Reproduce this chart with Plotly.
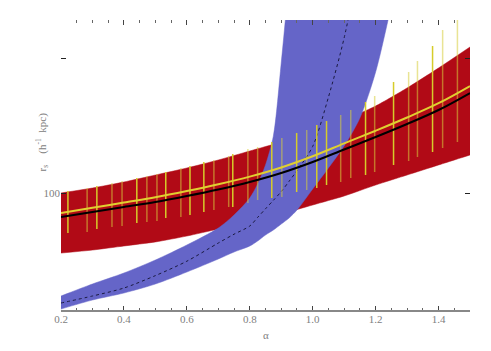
import plotly.graph_objects as go

# ---- data ----
alpha = [0.2, 0.3, 0.4, 0.5, 0.6, 0.7, 0.8, 0.9, 1.0, 1.1, 1.2, 1.3, 1.4, 1.5]
red_low = [35.9, 37.8, 40.5, 43.4, 48.0, 54.1, 61.0, 69.9, 81.5, 95.0, 114.6, 135.9, 161.3, 191.2]
red_high = [100.0, 108.9, 120.6, 135.9, 153.2, 175.6, 204.7, 238.7, 287.9, 347.2, 441.0, 599.6, 843.3, 1206.5]
black_fit = [66.4, 72.3, 78.8, 85.8, 95.0, 106.2, 120.6, 140.6, 169.7, 210.0, 259.9, 324.5, 411.9, 550.4]
yellow_fit = [71.1, 77.7, 85.0, 92.9, 103.3, 116.0, 132.3, 154.7, 187.3, 233.0, 289.4, 362.5, 462.6, 620.3]

alpha_blue = [0.2, 0.3, 0.4, 0.5, 0.6, 0.7, 0.75, 0.8, 0.825, 0.85, 0.875, 0.9, 0.925, 0.95,
              1.0, 1.05, 1.1, 1.15, 1.2, 1.25]
blue_high = [17.26, 21.18, 25.55, 31.9, 41.2, 55.0, 68.7, 91.8, 116.6, 161.3, 264.4, 918.3, 3784, 14800]
blue_low = [13.82, 16.12, 18.17, 21.18, 25.99, 32.45, 36.56, 40.5, 44.1, 48.85, 53.2, 58.9, 65.3, 74.8,
            107.1, 153.2, 222.9, 359.3, 787.6, 2470]
blue_mid = [15.32, 17.26, 19.78, 24.44, 31.25, 42.62, 49.53, 56.95, 65.97, 76.38, 88.27, 102.4, 122.1, 146.3,
            221.4, 512.4, 1409, 5320]

bar_a_alpha = [0.222, 0.314, 0.441, 0.533, 0.610, 0.654, 0.746, 0.870, 0.949, 1.013, 1.044, 1.168, 1.257, 1.381]
bar_a_low = [50.5, 54.1, 60.0, 65.3, 68.7, 72.3, 78.8, 91.8, 101.7, 108.9, 114.6, 135.9, 161.2, 201.2]
bar_a_high = [103.5, 112.7, 129.2, 143.1, 158.5, 169.7, 194.5, 238.7, 278.3, 318.9, 341.5, 472.2, 664.1, 1227]

bar_b_alpha = [0.283, 0.362, 0.394, 0.473, 0.505, 0.581, 0.686, 0.733, 0.794, 0.825, 0.902, 0.981,
               1.089, 1.121, 1.197, 1.305, 1.333, 1.413, 1.460]
bar_b_low = [51.4, 56.0, 57.0, 61.0, 62.0, 66.4, 74.8, 78.8, 84.3, 88.7, 93.4, 105.3,
             120.6, 129.2, 143.1, 172.6, 184.8, 215.4, 238.7]
bar_b_high = [108.9, 118.6, 122.7, 133.6, 138.3, 153.2, 175.6, 188.0, 211.8, 219.2, 255.5, 292.9,
              378.3, 411.9, 523.1, 787.6, 950.1, 1612, 2268]

x_tickvals = [0.2, 0.4, 0.6, 0.8, 1.0, 1.2, 1.4]
x_ticktext = ["0.2", "0.4", "0.6", "0.8", "1.0", "1.2", "1.4"]
y_tickvals = [100]
y_ticktext = ["100"]
y_unlabelled_ticks = [1000]

RED = "#b10a16"
BLUE = "#6565c8"


def segments(xs, lo, hi):
    sx, sy = [], []
    for a, l, h in zip(xs, lo, hi):
        sx += [a, a, None]
        sy += [l, h, None]
    return sx, sy


fig = go.Figure()

# red band (lower edge, then upper edge filled to it)
fig.add_trace(go.Scatter(x=alpha, y=red_low, mode="lines",
                         line=dict(width=0.5, color=RED, shape="spline", smoothing=0.6),
                         hoverinfo="skip", showlegend=False))
fig.add_trace(go.Scatter(x=alpha, y=red_high, mode="lines", fill="tonexty", fillcolor=RED,
                         line=dict(width=0.5, color=RED, shape="spline", smoothing=0.6),
                         hoverinfo="skip", showlegend=False))

# blue band
fig.add_trace(go.Scatter(x=alpha_blue, y=blue_low, mode="lines",
                         line=dict(width=0.5, color=BLUE, shape="spline", smoothing=0.8),
                         hoverinfo="skip", showlegend=False))
fig.add_trace(go.Scatter(x=alpha_blue[:len(blue_high)], y=blue_high, mode="lines",
                         fill="tonexty", fillcolor=BLUE,
                         line=dict(width=0.5, color=BLUE, shape="spline", smoothing=0.8),
                         hoverinfo="skip", showlegend=False))

# blue dotted centre line
fig.add_trace(go.Scatter(
    x=alpha_blue[:len(blue_mid)], y=blue_mid, mode="lines",
    line=dict(color="#1a1a40", width=1, dash="dot", shape="spline", smoothing=0.8), showlegend=False))

# error bars
sx, sy = segments(bar_b_alpha, bar_b_low, bar_b_high)
fig.add_trace(go.Scatter(x=sx, y=sy, mode="lines",
                         line=dict(color="rgba(215,205,60,0.55)", width=1.5), showlegend=False))
sx, sy = segments(bar_a_alpha, bar_a_low, bar_a_high)
fig.add_trace(go.Scatter(x=sx, y=sy, mode="lines",
                         line=dict(color="#d6cc2a", width=1.5), showlegend=False))

# fit lines
fig.add_trace(go.Scatter(x=alpha, y=black_fit, mode="lines",
                         line=dict(color="#000000", width=2, shape="spline"), showlegend=False))
fig.add_trace(go.Scatter(x=alpha, y=yellow_fit, mode="lines",
                         line=dict(color="#e0cf30", width=2, shape="spline"), showlegend=False))

font_ticks = dict(family="Liberation Serif", size=11, color="#808080")

fig.update_xaxes(
    range=[0.2, 1.5], tickvals=x_tickvals, ticktext=x_ticktext,
    ticks="inside", ticklen=5, tickwidth=1, tickcolor="#444",
    mirror="ticks", showline=False,
    showgrid=False, zeroline=False, tickfont=font_ticks,
    minor=dict(dtick=0.05, ticks="inside", ticklen=3, tickcolor="#666", showgrid=False),
)
fig.update_yaxes(
    type="log", range=[1.126, 3.2815], tickvals=y_tickvals, ticktext=y_ticktext,
    ticks="inside", ticklen=5, tickwidth=1, tickcolor="#222",
    mirror="ticks", showline=False, showgrid=False, zeroline=False, tickfont=font_ticks,
    minor=dict(tickvals=y_unlabelled_ticks, ticks="inside", ticklen=5, tickcolor="#222", showgrid=False),
)

# bottom axis line only (no frame on top)
fig.add_shape(type="line", xref="paper", yref="paper", x0=0, x1=1, y0=0, y1=0,
              line=dict(color="#888888", width=2))

fig.add_annotation(text="r<sub>s</sub>    (h<sup>-1</sup>  kpc)", textangle=-90,
                   xref="paper", yref="paper", x=-0.046, y=0.58,
                   xanchor="center", yanchor="middle", showarrow=False,
                   font=dict(family="Liberation Serif", size=11, color="#808080"))
fig.add_annotation(text="α", xref="paper", yref="paper", x=0.5, y=-0.082,
                   xanchor="center", yanchor="middle", showarrow=False,
                   font=dict(family="Liberation Serif", size=11, color="#808080"))

# the page body adds an 8 px margin, so the figure is made 8 px smaller
fig.update_layout(
    width=483, height=343,
    margin=dict(l=53, r=21, t=12, b=40),
    paper_bgcolor="white", plot_bgcolor="white",
    showlegend=False,
)

fig.write_html("out.html")
